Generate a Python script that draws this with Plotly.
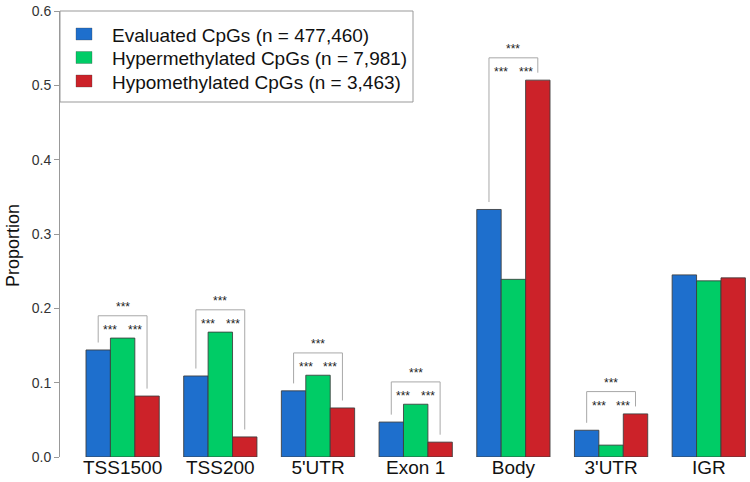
import plotly.graph_objects as go

# ---- data ----
regions = ["TSS1500", "TSS200", "5'UTR", "Exon 1", "Body", "3'UTR", "IGR"]
evaluated = [0.144, 0.109, 0.089, 0.047, 0.333, 0.036, 0.245]
hyper = [0.160, 0.168, 0.110, 0.071, 0.239, 0.016, 0.237]
hypo = [0.082, 0.027, 0.066, 0.020, 0.507, 0.058, 0.241]
significant = [True, True, True, True, True, True, False]
series_names = [
    "Evaluated CpGs (n = 477,460)",
    "Hypermethylated CpGs (n = 7,981)",
    "Hypomethylated CpGs (n = 3,463)",
]
series_colors = ["#1e6fcd", "#00cc66", "#cc2229"]
y_ticks = [0.0, 0.1, 0.2, 0.3, 0.4, 0.5, 0.6]

FONT = "Liberation Sans, Arial, sans-serif"
PW, PH = 690, 446  # plot area size in px (for paper-coordinate placement)

fig = go.Figure()
for name, vals, col in zip(series_names, [evaluated, hyper, hypo], series_colors):
    fig.add_trace(go.Bar(
        x=regions, y=vals, name=name,
        marker=dict(color=col, line=dict(color="rgba(60,60,60,0.85)", width=1)),
    ))

# significance brackets
bracket_col = "#a8a8a8"
for i, (sig, b, g, r) in enumerate(zip(significant, evaluated, hyper, hypo)):
    if not sig:
        continue
    top = max(b, g, r) + 0.03
    xl, xr = i - 0.25, i + 0.25
    fig.add_shape(type="line", x0=xl, x1=xl, y0=b + 0.01, y1=top,
                  line=dict(color=bracket_col, width=1))
    fig.add_shape(type="line", x0=xl, x1=xr, y0=top, y1=top,
                  line=dict(color=bracket_col, width=1))
    fig.add_shape(type="line", x0=xr, x1=xr, y0=r + 0.01, y1=top,
                  line=dict(color=bracket_col, width=1))
    for sx, sy in [(i, top + 0.016), (i - 0.125, top - 0.015), (i + 0.125, top - 0.015)]:
        fig.add_annotation(x=sx, y=sy, text="***", showarrow=False,
                           xanchor="center", yanchor="middle", yshift=-3,
                           font=dict(family=FONT, size=12, color="#222"))

# legend (frame, keys and labels)
fig.add_shape(type="rect", xref="paper", yref="paper",
              x0=0, x1=353 / PW, y0=355 / PH, y1=1,
              line=dict(color="#999", width=1), fillcolor="white", layer="above")
for k, (name, col) in enumerate(zip(series_names, series_colors)):
    cy = 23 + 23.5 * k  # row centre, px below plot top
    fig.add_shape(type="rect", xref="paper", yref="paper",
                  x0=16 / PW, x1=32 / PW, y0=1 - (cy + 6) / PH, y1=1 - (cy - 6) / PH,
                  line=dict(color="rgba(60,60,60,0.6)", width=0.5), fillcolor=col,
                  layer="above")
    fig.add_annotation(xref="paper", yref="paper", x=50 / PW, y=1 - cy / PH,
                       text=name, showarrow=False, xanchor="left", yanchor="middle",
                       yshift=-1, font=dict(family=FONT, size=19, color="#111"))

# y-axis title
fig.add_annotation(xref="paper", yref="paper", x=-47 / PW, y=0.473,
                   text="Proportion", textangle=-90, showarrow=False,
                   xanchor="center", yanchor="middle",
                   font=dict(family=FONT, size=18, color="#111"))

fig.update_layout(
    width=750, height=482,
    margin=dict(l=60, r=0, t=11, b=25, autoexpand=False),
    paper_bgcolor="white", plot_bgcolor="white",
    barmode="group", bargap=0.25, bargroupgap=0,
    font=dict(family=FONT, color="#111"),
    showlegend=False,
    xaxis=dict(
        range=[-0.641, 6.422], showgrid=False, zeroline=False, showline=False,
        ticks="", tickfont=dict(family=FONT, size=19, color="#111"),
        ticklabelstandoff=-3, automargin=False,
    ),
    yaxis=dict(
        range=[0, 0.6], tickvals=y_ticks, tickformat=".1f",
        showgrid=False, zeroline=False, showline=True, linecolor="#999",
        linewidth=1, ticks="outside", ticklen=5, tickcolor="#999",
        tickfont=dict(family=FONT, size=14, color="#333"),
        automargin=False,
    ),
)

fig.write_html("out.html", config={"displayModeBar": False},
               post_script="document.body.style.margin='0';")
